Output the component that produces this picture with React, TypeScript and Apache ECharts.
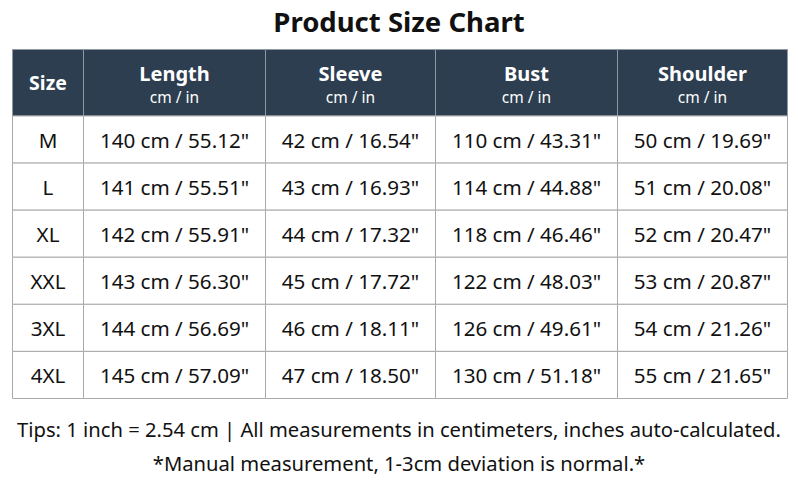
import React, { useEffect, useRef } from "react";
import * as echarts from "echarts";

// ---- data ----
const sizes = ["M", "L", "XL", "XXL", "3XL", "4XL"];
const measures = ["Length", "Sleeve", "Bust", "Shoulder"];
const unitLabel = "cm / in";
const lengthCm = [140, 141, 142, 143, 144, 145];
const lengthIn = ["55.12", "55.51", "55.91", "56.30", "56.69", "57.09"];
const sleeveCm = [42, 43, 44, 45, 46, 47];
const sleeveIn = ["16.54", "16.93", "17.32", "17.72", "18.11", "18.50"];
const bustCm = [110, 114, 118, 122, 126, 130];
const bustIn = ["43.31", "44.88", "46.46", "48.03", "49.61", "51.18"];
const shoulderCm = [50, 51, 52, 53, 54, 55];
const shoulderIn = ["19.69", "20.08", "20.47", "20.87", "21.26", "21.65"];
const titleText = "Product Size Chart";
const tipText = "Tips: 1 inch = 2.54 cm | All measurements in centimeters, inches auto-calculated.";
const noteText = "*Manual measurement, 1-3cm deviation is normal.*";

// ---- layout constants (not data) ----
const colEdges = [0, 71, 253, 423, 605, 775];
const rowEdges = [0, 66.5, 113.6, 160.7, 207.8, 254.9, 302.0, 349.1];
const FONT = "'Noto Sans', 'Open Sans', sans-serif";

type Cell = { col: number; row: number; main: string; sub?: string; header: boolean };

function buildCells(): Cell[] {
  const cells: Cell[] = [];
  cells.push({ col: 0, row: 0, main: "Size", header: true });
  measures.forEach((m, i) => cells.push({ col: i + 1, row: 0, main: m, sub: unitLabel, header: true }));
  const cmCols = [lengthCm, sleeveCm, bustCm, shoulderCm];
  const inCols = [lengthIn, sleeveIn, bustIn, shoulderIn];
  sizes.forEach((s, r) => {
    cells.push({ col: 0, row: r + 1, main: s, header: false });
    cmCols.forEach((cm, c) => {
      cells.push({ col: c + 1, row: r + 1, main: `${cm[r]} cm / ${inCols[c][r]}"`, header: false });
    });
  });
  return cells;
}

export default function App() {
  const ref = useRef<HTMLDivElement>(null);
  useEffect(() => {
    if (!ref.current) return;
    const chart = echarts.init(ref.current, undefined, { renderer: "svg" });
    const cells = buildCells();
    chart.setOption({
      animation: false,
      backgroundColor: "#ffffff",
      title: {
        text: titleText,
        left: "center",
        top: 2,
        textStyle: { fontFamily: FONT, fontSize: 27.5, fontWeight: "bold", color: "#111111" },
      },
      grid: { left: 12.5, right: 10.5, top: 49.5, bottom: 102.5, containLabel: false },
      xAxis: { type: "value", min: 0, max: colEdges[colEdges.length - 1], show: false },
      yAxis: { type: "value", min: 0, max: rowEdges[rowEdges.length - 1], inverse: true, show: false },
      graphic: [
        {
          type: "text",
          left: "center",
          top: 419,
          style: { text: tipText, fontFamily: FONT, fontSize: 20.2, fill: "#111111" },
        },
        {
          type: "text",
          left: "center",
          top: 453,
          style: { text: noteText, fontFamily: FONT, fontSize: 20.2, fill: "#111111" },
        },
      ],
      series: [
        {
          type: "custom",
          clip: false,
          data: cells.map((c) => [c.col, c.row]),
          renderItem: (params: any, api: any) => {
            const col = api.value(0);
            const row = api.value(1);
            const cell = cells[params.dataIndex];
            const p0 = api.coord([colEdges[col], rowEdges[row]]);
            const p1 = api.coord([colEdges[col + 1], rowEdges[row + 1]]);
            const x = p0[0];
            const y = p0[1];
            const w = p1[0] - p0[0];
            const h = p1[1] - p0[1];
            const cx = x + w / 2;
            const cy = y + h / 2;
            const children: any[] = [
              {
                type: "rect",
                shape: { x, y, width: w, height: h },
                style: {
                  fill: cell.header ? "#2c3e50" : "#ffffff",
                  stroke: cell.header ? "#8e99a4" : "#aaaaaa",
                  lineWidth: 1,
                },
              },
            ];
            if (cell.header && cell.sub) {
              children.push({
                type: "text",
                style: {
                  x: cx, y: cy - 9, text: cell.main, align: "center", verticalAlign: "middle",
                  fontFamily: FONT, fontSize: 20, fontWeight: "bold", fill: "#ffffff",
                },
              });
              children.push({
                type: "text",
                style: {
                  x: cx, y: cy + 14, text: cell.sub, align: "center", verticalAlign: "middle",
                  fontFamily: FONT, fontSize: 15.5, fill: "#ffffff",
                },
              });
            } else {
              children.push({
                type: "text",
                style: {
                  x: cx, y: cy, text: cell.main, align: "center", verticalAlign: "middle",
                  fontFamily: FONT, fontSize: cell.header ? 19.5 : 20.6,
                  fontWeight: cell.header ? "bold" : "normal",
                  fill: cell.header ? "#ffffff" : "#111111",
                },
              });
            }
            return { type: "group", children };
          },
        },
      ],
    });
    return () => chart.dispose();
  }, []);
  return (
    <div
      ref={ref}
      style={{ position: "fixed", left: 0, top: 0, width: 798, height: 501 }}
    />
  );
}
